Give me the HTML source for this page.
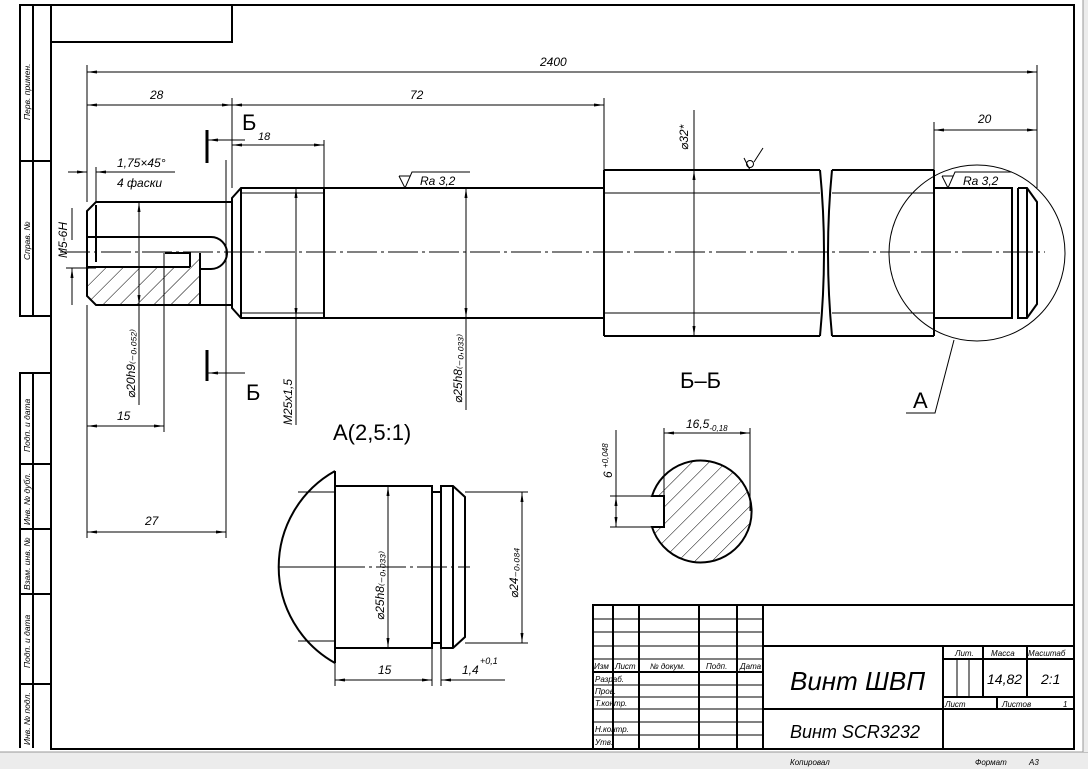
<!DOCTYPE html>
<html><head><meta charset="utf-8"><style>
html,body{margin:0;padding:0;background:#fff;}
svg{display:block;}
text{font-family:"Liberation Sans","DejaVu Sans",sans-serif;font-style:italic;fill:#000;}
</style></head><body>
<svg width="1088" height="769" viewBox="0 0 1088 769" xmlns="http://www.w3.org/2000/svg">
<defs>
<pattern id="h" patternUnits="userSpaceOnUse" width="12" height="12" patternTransform="rotate(45)">
<line x1="0" y1="0" x2="0" y2="12" stroke="#000" stroke-width="1"/>
</pattern>
<marker id="a" viewBox="0 0 10 4" refX="10" refY="2" markerWidth="12" markerHeight="4" markerUnits="userSpaceOnUse" orient="auto-start-reverse"><path d="M0,0.5 L10,2 L0,3.5z" fill="#000"/></marker>
</defs>
<rect x="0" y="752" width="1088" height="17" fill="#ececec"/>
<line x1="0" y1="752" x2="1088" y2="752" stroke="#999"/>
<rect x="1083" y="0" width="5" height="752" fill="#ececec"/>
<line x1="1083" y1="0" x2="1083" y2="752" stroke="#999"/>

<g fill="none" stroke="#000" stroke-width="2">
<rect x="51" y="5" width="1023" height="744"/>
<rect x="51" y="5" width="181" height="37"/>
<path d="M51,5 H20 V316 H51 M33,5 V316 M20,161 H51"/>
<path d="M51,373 H20 V748 M33,373 V748 M20,464 H51 M20,529 H51 M20,594 H51 M20,684 H51"/>
</g>
<g font-size="8.5">
<text transform="translate(30,120) rotate(-90)">Перв. примен.</text>
<text transform="translate(30,260) rotate(-90)">Справ. №</text>
<text transform="translate(30,452) rotate(-90)">Подп. и дата</text>
<text transform="translate(30,525) rotate(-90)">Инв. № дубл.</text>
<text transform="translate(30,590) rotate(-90)">Взам. инв. №</text>
<text transform="translate(30,668) rotate(-90)">Подп. и дата</text>
<text transform="translate(30,745) rotate(-90)">Инв. № подл.</text>
</g>

<!-- Title block -->
<g fill="none" stroke="#000" stroke-width="2">
<rect x="593" y="605" width="481" height="144"/>
<path d="M613,605 V749 M639,605 V749 M699,605 V749 M737,605 V749 M763,605 V749"/>
<path d="M763,646 H1074 M763,709 H1074 M943,646 V749 M943,659 H1074 M943,697 H1074 M983,646 V697 M1027,646 V697 M997,697 V709"/>
<path d="M593,672 H763"/>
</g>
<g fill="none" stroke="#000" stroke-width="1">
<path d="M593,619 H763 M593,632 H763 M593,646 H763 M593,659 H763 M593,685 H763 M593,697 H763 M593,709 H763 M593,722 H763 M593,735 H763"/>
<path d="M957,659 V697 M969,659 V697"/>
</g>
<g font-size="8">
<text x="594" y="669">Изм</text><text x="615" y="669">Лист</text><text x="650" y="669">№ докум.</text><text x="706" y="669">Подп.</text><text x="740" y="669">Дата</text>
<text x="595" y="682">Разраб.</text><text x="595" y="694">Пров.</text><text x="595" y="706">Т.контр.</text>
<text x="595" y="732">Н.контр.</text><text x="595" y="745">Утв.</text>
<text x="955" y="656">Лит.</text><text x="991" y="656">Масса</text><text x="1028" y="656">Масштаб</text>
<text x="945" y="707">Лист</text><text x="1002" y="707">Листов</text><text x="1063" y="707">1</text>
<text x="790" y="765">Копировал</text><text x="975" y="765">Формат</text><text x="1029" y="765">А3</text>
</g>
<text x="987" y="684" font-size="14">14,82</text>
<text x="1041" y="684" font-size="14">2:1</text>
<text x="790" y="690" font-size="26">Винт ШВП</text>
<text x="790" y="738" font-size="18">Винт SCR3232</text>

<!-- Main shaft -->
<g fill="none" stroke="#000" stroke-width="2">
<path d="M96,202 H232 V305 H96 L87,296 V211 Z"/>
<path d="M232,198 L241,188 H604 V318 H241 L232,308 Z"/>
<path d="M324,188 V318 M241,188 V318"/>
<path d="M604,170 H820 M604,336 H820 M604,170 V336"/>
<path d="M820,170 Q828,252 820,336 M832,170 Q824,252 832,336"/>
<path d="M832,170 H934 M832,336 H934 M934,170 V336"/>
<path d="M934,188 H1012 V318 H934 M1012,193 V313 M1018,188 V318 H1027 L1037,304 V202 L1027,188 H1018 M1027,188 V318"/>
<path d="M87,237 H211 A16,16 0 0 1 211,269 H200"/>
<path d="M96,205 V262"/>
<path d="M165,253 H190 V267 M200,253 V305"/>
</g>
<path d="M87,267 H190 L200,253 V305 H96 L87,296 Z" fill="url(#h)" stroke="none"/>
<path d="M87,267 H190" stroke="#000" stroke-width="2"/>
<g fill="none" stroke="#000" stroke-width="1">
<path d="M241,193 H324 M241,313 H324 M604,193 H820 M604,313 H820 M832,193 H934 M832,313 H934"/>
<path d="M60,252 H1045" stroke-dasharray="30,4,3,4"/>
<circle cx="977" cy="253" r="88"/>
<path d="M954,340 L935,413 H906"/>
<path d="M87,65 V202 M1037,65 V188 M232,98 V188 M604,98 V170 M324,140 V188 M934,122 V170"/>
<path d="M87,72 H1037" marker-start="url(#a)" marker-end="url(#a)"/>
<path d="M87,105 H232" marker-start="url(#a)" marker-end="url(#a)"/>
<path d="M232,105 H604" marker-start="url(#a)" marker-end="url(#a)"/>
<path d="M232,145 H324" marker-start="url(#a)" marker-end="url(#a)"/>
<path d="M934,130 H1037" marker-start="url(#a)" marker-end="url(#a)"/>
<path d="M694,110 V336" marker-end="url(#a)"/>
<path d="M694,170 V336" marker-start="url(#a)"/>
<path d="M466,188 V410" marker-start="url(#a)"/>
<path d="M466,188 V318" marker-end="url(#a)"/>
<path d="M296,188 V425" marker-start="url(#a)"/>
<path d="M296,188 V318" marker-end="url(#a)"/>
<path d="M139,202 V405" marker-start="url(#a)"/>
<path d="M139,202 V305" marker-end="url(#a)"/>
<path d="M164,253 V432 M226,160 V538"/>
<path d="M87,305 V538"/>
<path d="M87,426 H164" marker-start="url(#a)" marker-end="url(#a)"/>
<path d="M87,532 H226" marker-start="url(#a)" marker-end="url(#a)"/>
<path d="M68,172 H87" marker-end="url(#a)"/>
<path d="M115,172 H96" marker-end="url(#a)"/>
<path d="M96,172 H175 M96,167 V202"/>
<path d="M66,268 H96 M72,208 V240"/>
<path d="M72,305 V268" marker-end="url(#a)"/>
<path d="M245,140 H208" marker-end="url(#a)"/>
<path d="M245,373 H208" marker-end="url(#a)"/>
<path d="M399,176 L405,188 L412,172 H470 M399,176 H410"/>
<path d="M942,176 L948,188 L955,172 H1012 M942,176 H953"/>
<circle cx="750" cy="164" r="3.5"/>
<path d="M744,158 L750,170 M754,162 L763,148"/>
</g>
<g stroke="#000" stroke-width="3"><path d="M207,130 V163 M207,350 V381"/></g>
<g font-size="12">
<text x="540" y="66">2400</text>
<text x="150" y="99">28</text>
<text x="410" y="99">72</text>
<text x="258" y="140" font-size="11">18</text>
<text x="978" y="123">20</text>
<text x="117" y="167">1,75×45°</text>
<text x="117" y="187">4 фаски</text>
<text x="117" y="420">15</text>
<text x="145" y="525">27</text>
<text transform="translate(67,258) rotate(-90)">М5-6Н</text>
<text transform="translate(135,398) rotate(-90)">⌀20h9₍₋₀,₀₅₂₎</text>
<text transform="translate(292,425) rotate(-90)">М25x1,5</text>
<text transform="translate(462,403) rotate(-90)">⌀25h8₍₋₀,₀₃₃₎</text>
<text transform="translate(688,150) rotate(-90)">⌀32*</text>
<text x="420" y="185">Ra 3,2</text>
<text x="963" y="185">Ra 3,2</text>
</g>
<g font-size="22">
<text x="242" y="130" style="font-style:normal">Б</text>
<text x="246" y="400" style="font-style:normal">Б</text>
<text x="913" y="408" style="font-style:normal">А</text>
<text x="680" y="388" style="font-style:normal">Б–Б</text>
<text x="333" y="440" style="font-style:normal">А(2,5:1)</text>
</g>

<!-- Detail A -->
<g fill="none" stroke="#000" stroke-width="2">
<path d="M335,471 A110,110 0 0 0 335,663"/>
<path d="M335,471 V663"/>
<rect x="335" y="486" width="97" height="162"/>
<path d="M432,492 H441 M432,643 H441"/>
<path d="M441,486 H453 L465,497 V637 L453,648 H441 Z M453,486 V648"/>
</g>
<g fill="none" stroke="#000" stroke-width="1">
<path d="M298,492 H335 M298,641 H335"/>
<path d="M279,567 H335"/>
<path d="M335,567 H470" stroke-dasharray="30,4,3,4"/>
<path d="M388,486 V648" marker-start="url(#a)" marker-end="url(#a)"/>
<path d="M465,492 H528 M465,643 H528"/>
<path d="M522,492 V643" marker-start="url(#a)" marker-end="url(#a)"/>
<path d="M335,648 V686 M432,648 V686 M441,648 V686"/>
<path d="M335,680 H432" marker-start="url(#a)" marker-end="url(#a)"/>
<path d="M505,680 H441" marker-end="url(#a)"/>
</g>
<g font-size="12">
<text transform="translate(384,620) rotate(-90)">⌀25h8₍₋₀,₀₃₃₎</text>
<text transform="translate(518,598) rotate(-90)">⌀24₋₀,₀₈₄</text>
<text x="378" y="674">15</text>
<text x="462" y="674">1,4</text><text x="480" y="664" font-size="9">+0,1</text>
</g>

<!-- Section B-B -->
<path d="M664,496 H652 A51,51 0 1 1 652,527 H664 Z" fill="url(#h)" stroke="#000" stroke-width="2"/>
<g fill="none" stroke="#000" stroke-width="1">
<path d="M664,496 V428 M750,511 V428"/>
<path d="M664,433 H750" marker-start="url(#a)" marker-end="url(#a)"/>
<path d="M652,496 H610 M652,527 H610"/>
<path d="M616,430 V527"/>
<path d="M616,496 V527" marker-start="url(#a)" marker-end="url(#a)"/>
</g>
<g font-size="12">
<text x="686" y="428">16,5<tspan font-size="8" dy="3">-0,18</tspan></text>
<text transform="translate(612,478) rotate(-90)">6 <tspan font-size="8" dy="-4">+0,048</tspan></text>
</g>
</svg>
</body></html>
